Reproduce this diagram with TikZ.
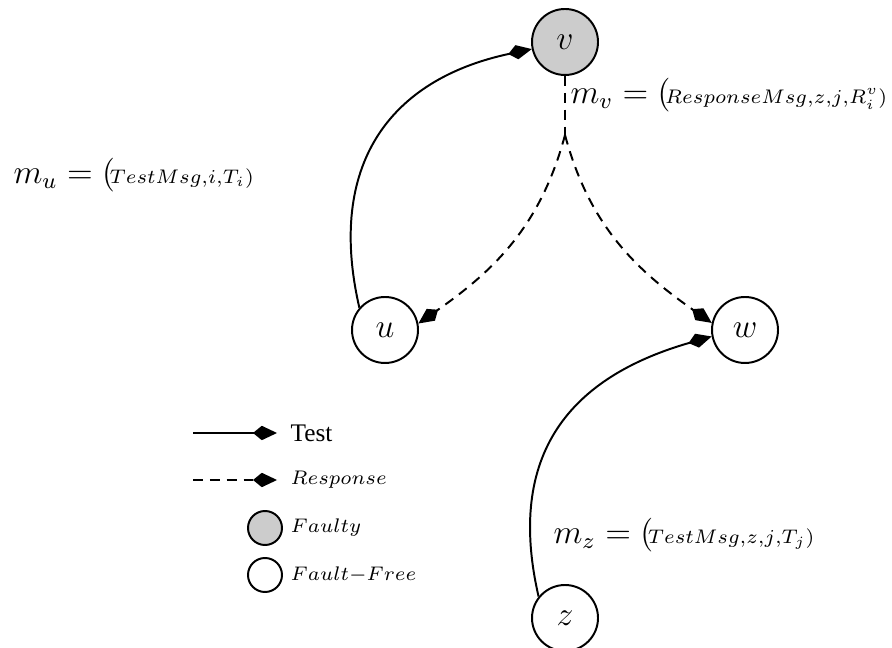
\documentclass[tikz,border=0pt]{standalone}
\usepackage{amsmath}
\usepackage{fontspec}
\newfontfamily\legfont{Liberation Serif}
\usetikzlibrary{arrows.meta}
\tikzset{
  pr/.style={circle,draw,line width=0.7pt,minimum size=8.25mm,inner sep=0pt,font=\large},
  flt/.style={fill=gray!40},
  tst/.style={line width=0.7pt,-{Kite[length=3mm,width=1.8mm,inset=1.1mm]}},
  rsp/.style={tst,dash pattern=on 3.5pt off 2.5pt},
  lg/.style={circle,draw,line width=0.7pt,minimum size=4.25mm,inner sep=0pt},
  lbl/.style={anchor=west,inner sep=0pt}
}
\newcommand{\msg}[2]{\fontsize{11.5}{13}\selectfont$m_{#1} = ($\!{\fontsize{7.5}{9}\selectfont$#2)$}}
\newcommand{\lgtxt}[1]{\fontsize{7.5}{9}\selectfont$#1$}

\begin{document}
\begin{tikzpicture}
\useasboundingbox (0,0) rectangle (11.15,8.0875);
% processors
\node[pr,flt] (v) at (7.0625,7.5625) {$v$};
\node[pr] (u) at (4.8125,3.9625) {$u$};
\node[pr] (w) at (9.3125,3.9625) {$w$};
\node[pr] (z) at (7.0625,0.3625) {$z$};
\coordinate (split) at (7.0625,6.4);
% tests
\draw[tst] (u.139) to[out=103,in=192,looseness=1.2] (v.192);
\draw[tst] (z.141) to[out=103,in=196,looseness=1.2] (w.191);
% responses
\draw[rsp,-] (v) -- (split);
\draw[rsp] (split) to[out=-105,in=35] (u.11);
\draw[rsp] (split) to[out=-75,in=145] (w.168);
% messages
\node[lbl] (mu) at (0.1625,5.9) {\msg{u}{TestMsg{,}i{,}T_i}};
\node[lbl] (mv) at (7.125,6.9) {\msg{v}{ResponseMsg{,}z{,}j{,}R^v_i}};
\node[lbl] (mz) at (6.9125,1.4) {\msg{z}{TestMsg{,}z{,}j{,}T_j}};
% legend
\coordinate (t0) at (2.4125,2.675); \coordinate (t1) at (3.4625,2.675);
\coordinate (r0) at (2.4125,2.0875); \coordinate (r1) at (3.4625,2.0875);
\draw[tst] (t0) -- (t1); \node[lbl,font=\legfont\fontsize{9}{11}\selectfont] (ltst) at (3.625,2.675) {Test};
\draw[rsp] (r0) -- (r1); \node[lbl] (lrsp) at (3.625,2.0875) {\lgtxt{Response}};
\node[lg,flt] (lflt) at (3.3125,1.4875) {}; \node[lbl] (lfltt) at (3.625,1.4875) {\lgtxt{Faulty}};
\node[lg] (lok) at (3.3125,0.9) {}; \node[lbl] (lokt) at (3.625,0.9) {\lgtxt{Fault{-}Free}};
\end{tikzpicture}
\end{document}
